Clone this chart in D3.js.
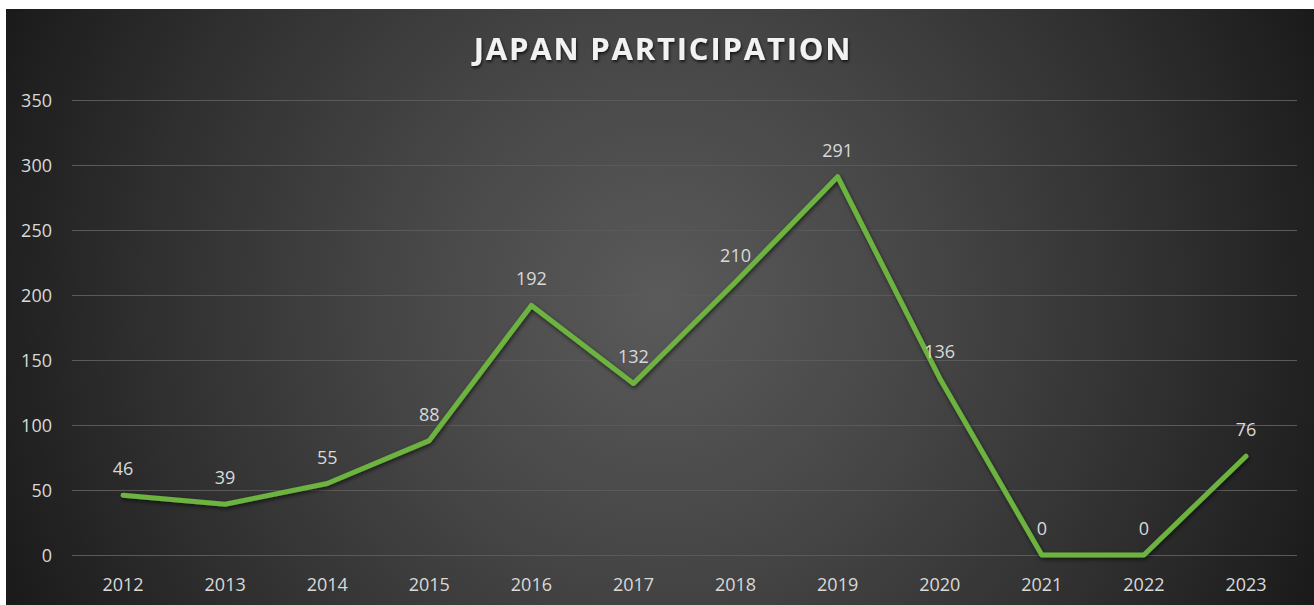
<!DOCTYPE html>
<html><head><meta charset="utf-8">
<script src="https://cdn.jsdelivr.net/npm/d3@7"></script>
<style>html,body{margin:0;padding:0;background:#fff;overflow:hidden}</style>
</head><body><svg id="c" width="1314" height="605"></svg>
<script>
const years = ["2012","2013","2014","2015","2016","2017","2018","2019","2020","2021","2022","2023"];
const participants = [46,39,55,88,192,132,210,291,136,0,0,76];
const yTicks = [0,50,100,150,200,250,300,350];
const title = "JAPAN PARTICIPATION";

const svg = d3.select("#c");
const W = 1314, H = 605;
const defs = svg.append("defs");
const rg = defs.append("radialGradient").attr("id","bg")
  .attr("gradientUnits","userSpaceOnUse").attr("cx",660).attr("cy",300).attr("r",720);
rg.append("stop").attr("offset","0").attr("stop-color","#5a5a5a");
rg.append("stop").attr("offset","0.35").attr("stop-color","#474747");
rg.append("stop").attr("offset","0.7").attr("stop-color","#303030");
rg.append("stop").attr("offset","1").attr("stop-color","#1a1a1a");
const sh = defs.append("filter").attr("id","sh").attr("x","-10%").attr("y","-10%").attr("width","120%").attr("height","120%");
sh.append("feDropShadow").attr("dx",1).attr("dy",2).attr("stdDeviation",2).attr("flood-color","#000").attr("flood-opacity",0.6);
const tsh = defs.append("filter").attr("id","tsh");
tsh.append("feDropShadow").attr("dx",1).attr("dy",2).attr("stdDeviation",1.5).attr("flood-color","#000").attr("flood-opacity",0.7);

svg.append("rect").attr("x",6).attr("y",9).attr("width",W-6).attr("height",H-9).attr("fill","url(#bg)");

const x = d3.scaleBand().domain(years).range([72,1297]);
const y = d3.scaleLinear().domain([0,350]).range([555,100]);

svg.append("text").attr("x",663).attr("y",60).attr("text-anchor","middle")
  .attr("font-family","Open Sans, sans-serif").attr("font-weight","bold").attr("font-size",31)
  .attr("letter-spacing",1.8).attr("fill","#f2f2f2").attr("filter","url(#tsh)").text(title);

const gy = svg.append("g").attr("transform","translate(72,0)")
  .call(d3.axisLeft(y).tickValues(yTicks).tickSize(-1225).tickPadding(20));
gy.select(".domain").remove();
gy.selectAll("line").attr("stroke","#5a5a5a").attr("stroke-width",1.2);
gy.selectAll("text").attr("fill","#d9d9d9").attr("font-family","Open Sans, sans-serif").attr("font-size",18).attr("dy","0.34em");

const gx = svg.append("g").attr("transform","translate(0,555)")
  .call(d3.axisBottom(x).tickSize(0).tickPadding(23));
gx.select(".domain").remove();
gx.selectAll("text").attr("fill","#d9d9d9").attr("font-family","Open Sans, sans-serif").attr("font-size",18);

const line = d3.line().x((d,i)=>x(years[i])+x.bandwidth()/2).y(d=>y(d));
svg.append("path").datum(participants).attr("d",line).attr("fill","none")
  .attr("stroke","#6cb33f").attr("stroke-width",5).attr("stroke-linejoin","round").attr("stroke-linecap","round")
  .attr("filter","url(#sh)");

svg.append("g").selectAll("text").data(participants).join("text")
  .attr("x",(d,i)=>x(years[i])+x.bandwidth()/2).attr("y",d=>y(d)-20)
  .attr("text-anchor","middle").attr("fill","#d9d9d9").attr("font-family","Open Sans, sans-serif").attr("font-size",18)
  .text(d=>d);
</script></body></html>
